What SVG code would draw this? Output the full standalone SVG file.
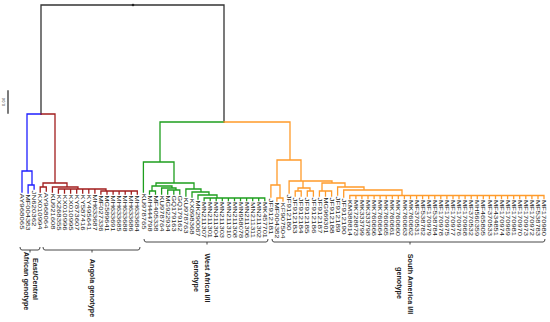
<svg xmlns="http://www.w3.org/2000/svg" width="550" height="322" viewBox="0 0 550 322">
<style>
.ln{fill:none;stroke-width:1.3;stroke-linecap:square}
.k{stroke:#333}.b{stroke:#1f1fff}.r{stroke:#a11d1d}.g{stroke:#1e9e1e}.o{stroke:#ff9b2a}
.lbl{font-family:"Liberation Sans",Arial,sans-serif;font-size:5.3px;fill:#222}
.grp{font-family:"Liberation Sans",Arial,sans-serif;font-size:7.2px;font-weight:bold;fill:#222;text-anchor:middle}
.br{fill:none;stroke:#333;stroke-width:0.9}
</style>
<rect width="550" height="322" fill="#fff"/>
<g id="scale">
<path class="ln k" d="M8,91V113" stroke-width="1"/>
<text transform="translate(4.8,102) rotate(-90)" style="font-family:'Liberation Sans',Arial,sans-serif;font-size:4px;fill:#333;text-anchor:middle">0.04</text>
</g>
<g id="connectors">
<path class="ln k" d="M41,114V5H224V122"/>
<circle cx="133" cy="5" r="1.3" fill="#222"/>
<path class="ln b" d="M41,114H27V171M22,192V171H32V185M28.1,193V185H34.1V189"/>
<path class="ln r" d="M41,114H55V183M43,183H67M40.2,192V187H46.3V191M43,183V187M67,183V187M52.4,192V187H78V189M58.4,189H106V191M100.9,191H137.3
M58.4,189V193M64.5,189V193M70.6,189V193M76.7,189V193M82.7,189V193M88.8,189V193M94.9,189V193
M100.9,191V194M107,191V194M113.1,191V194M119.1,191V194M125.2,191V194M131.3,191V194M137.3,191V194"/>
<path class="ln g" d="M160,122H224M160,122V162M143.4,192V162H174V183M156,183H194M156,183V186M152,186H172M152,186V191M149.5,194V191H155.5V194
M172,186V188M161.6,194V188H176V190M167.7,194V190H179.8V194M173.8,190V194
M194,183V189M185.9,196V189H201V192M192,197V192H209V195M198,199V195H217V198M204.1,198H264.8
M204.1,198V200.5M210.2,198V200.5M216.2,198V200.5M222.3,198V200.5M228.4,198V200.5M234.5,198V200.5M240.5,198V200.5M246.6,198V200.5M252.7,198V200.5M258.7,198V200.5M264.8,198V200.5"/>
<path class="ln o" d="M224,122H290V160M277,160H301M277,160V185M270.9,197V185H280V198M276.9,201V198H283V201
M301,160V181M289.1,193V181H332V183M322,183H345
M303,181V188M298,188H310M298,188V191M295.2,196V191H301.2V196M310,188V191M307.3,196V191H313.4V196
M322,183V191M319.4,196V191H331.6V196M325.5,191V196
M345,183V187M337.6,195V187H364V190M343.7,197V190H402V195.5M349.8,195.5H544
M349.8,195.5V198.5M355.9,195.5V198.5M361.9,195.5V198.5M368,195.5V198.5M374.1,195.5V198.5M380.1,195.5V198.5M386.2,195.5V198.5M392.3,195.5V198.5M398.3,195.5V198.5M404.4,195.5V198.5M410.5,195.5V198.5M416.6,195.5V198.5M422.6,195.5V198.5M428.7,195.5V198.5M434.8,195.5V198.5M440.8,195.5V198.5M446.9,195.5V198.5M453,195.5V198.5M459,195.5V198.5M465.1,195.5V198.5M471.2,195.5V198.5M477.3,195.5V198.5M483.3,195.5V198.5M489.4,195.5V198.5M495.5,195.5V198.5M501.5,195.5V198.5M507.6,195.5V198.5M513.7,195.5V198.5M519.7,195.5V198.5M525.8,195.5V198.5M531.9,195.5V198.5M538,195.5V198.5M544,195.5V198.5"/>
</g>
<g id="leaves" class="lbl">
<g id="n-AY968065"><text transform="translate(20.1,193.5) rotate(90)" textLength="36" lengthAdjust="spacingAndGlyphs">AY968065</text></g>
<g id="n-MF004383"><text transform="translate(26.2,194.5) rotate(90)" textLength="36" lengthAdjust="spacingAndGlyphs">MF004383</text></g>
<g id="n-JN620362"><text transform="translate(32.2,190.5) rotate(90)" textLength="36" lengthAdjust="spacingAndGlyphs">JN620362</text></g>
<g id="n-KX010994"><text transform="translate(38.3,193.5) rotate(90)" textLength="36" lengthAdjust="spacingAndGlyphs">KX010994</text></g>
<g id="n-AY968064"><text transform="translate(44.4,192.5) rotate(90)" textLength="36" lengthAdjust="spacingAndGlyphs">AY968064</text></g>
<g id="n-KU921608"><text transform="translate(50.5,193.5) rotate(90)" textLength="36" lengthAdjust="spacingAndGlyphs">KU921608</text></g>
<g id="n-KX268355"><text transform="translate(56.5,194.5) rotate(90)" textLength="36" lengthAdjust="spacingAndGlyphs">KX268355</text></g>
<g id="n-KX010996"><text transform="translate(62.6,194.5) rotate(90)" textLength="36" lengthAdjust="spacingAndGlyphs">KX010996</text></g>
<g id="n-KX010995"><text transform="translate(68.7,194.5) rotate(90)" textLength="36" lengthAdjust="spacingAndGlyphs">KX010995</text></g>
<g id="n-KY873607"><text transform="translate(74.8,194.5) rotate(90)" textLength="36" lengthAdjust="spacingAndGlyphs">KY873607</text></g>
<g id="n-KY587416"><text transform="translate(80.8,194.5) rotate(90)" textLength="36" lengthAdjust="spacingAndGlyphs">KY587416</text></g>
<g id="n-KY495641"><text transform="translate(86.9,194.5) rotate(90)" textLength="36" lengthAdjust="spacingAndGlyphs">KY495641</text></g>
<g id="n-MH633687"><text transform="translate(93,194.5) rotate(90)" textLength="36" lengthAdjust="spacingAndGlyphs">MH633687</text></g>
<g id="n-MF027336"><text transform="translate(99,195.5) rotate(90)" textLength="36" lengthAdjust="spacingAndGlyphs">MF027336</text></g>
<g id="n-MG589641"><text transform="translate(105.1,195.5) rotate(90)" textLength="36" lengthAdjust="spacingAndGlyphs">MG589641</text></g>
<g id="n-MH633691"><text transform="translate(111.2,195.5) rotate(90)" textLength="36" lengthAdjust="spacingAndGlyphs">MH633691</text></g>
<g id="n-MH633685"><text transform="translate(117.2,195.5) rotate(90)" textLength="36" lengthAdjust="spacingAndGlyphs">MH633685</text></g>
<g id="n-MH633688"><text transform="translate(123.3,195.5) rotate(90)" textLength="36" lengthAdjust="spacingAndGlyphs">MH633688</text></g>
<g id="n-MH633686"><text transform="translate(129.4,195.5) rotate(90)" textLength="36" lengthAdjust="spacingAndGlyphs">MH633686</text></g>
<g id="n-MH633684"><text transform="translate(135.4,195.5) rotate(90)" textLength="36" lengthAdjust="spacingAndGlyphs">MH633684</text></g>
<g id="n-KU978765"><text transform="translate(141.5,193.5) rotate(90)" textLength="36" lengthAdjust="spacingAndGlyphs">KU978765</text></g>
<g id="n-MH444798"><text transform="translate(147.6,195.5) rotate(90)" textLength="36" lengthAdjust="spacingAndGlyphs">MH444798</text></g>
<g id="n-MF405338"><text transform="translate(153.6,195.5) rotate(90)" textLength="36" lengthAdjust="spacingAndGlyphs">MF405338</text></g>
<g id="n-KU978764"><text transform="translate(159.7,195.5) rotate(90)" textLength="36" lengthAdjust="spacingAndGlyphs">KU978764</text></g>
<g id="n-MG922934"><text transform="translate(165.8,195.5) rotate(90)" textLength="36" lengthAdjust="spacingAndGlyphs">MG922934</text></g>
<g id="n-GQ179163"><text transform="translate(171.9,195.5) rotate(90)" textLength="36" lengthAdjust="spacingAndGlyphs">GQ179163</text></g>
<g id="n-GQ179162"><text transform="translate(177.9,195.5) rotate(90)" textLength="36" lengthAdjust="spacingAndGlyphs">GQ179162</text></g>
<g id="n-KU978763"><text transform="translate(184,197.5) rotate(90)" textLength="36" lengthAdjust="spacingAndGlyphs">KU978763</text></g>
<g id="n-KX898368"><text transform="translate(190.1,198.5) rotate(90)" textLength="36" lengthAdjust="spacingAndGlyphs">KX898368</text></g>
<g id="n-MK290067"><text transform="translate(196.1,200.5) rotate(90)" textLength="36" lengthAdjust="spacingAndGlyphs">MK290067</text></g>
<g id="n-MN211307"><text transform="translate(202.2,202) rotate(90)" textLength="36" lengthAdjust="spacingAndGlyphs">MN211307</text></g>
<g id="n-MN211301"><text transform="translate(208.3,202) rotate(90)" textLength="36" lengthAdjust="spacingAndGlyphs">MN211301</text></g>
<g id="n-MN211304"><text transform="translate(214.3,202) rotate(90)" textLength="36" lengthAdjust="spacingAndGlyphs">MN211304</text></g>
<g id="n-MN211303"><text transform="translate(220.4,202) rotate(90)" textLength="36" lengthAdjust="spacingAndGlyphs">MN211303</text></g>
<g id="n-MN211310"><text transform="translate(226.5,202) rotate(90)" textLength="36" lengthAdjust="spacingAndGlyphs">MN211310</text></g>
<g id="n-MN211308"><text transform="translate(232.6,202) rotate(90)" textLength="36" lengthAdjust="spacingAndGlyphs">MN211308</text></g>
<g id="n-MN958078"><text transform="translate(238.6,202) rotate(90)" textLength="36" lengthAdjust="spacingAndGlyphs">MN958078</text></g>
<g id="n-MN211306"><text transform="translate(244.7,202) rotate(90)" textLength="36" lengthAdjust="spacingAndGlyphs">MN211306</text></g>
<g id="n-MN211311"><text transform="translate(250.8,202) rotate(90)" textLength="36" lengthAdjust="spacingAndGlyphs">MN211311</text></g>
<g id="n-MN211302"><text transform="translate(256.8,202) rotate(90)" textLength="36" lengthAdjust="spacingAndGlyphs">MN211302</text></g>
<g id="n-MK457701"><text transform="translate(262.9,202) rotate(90)" textLength="36" lengthAdjust="spacingAndGlyphs">MK457701</text></g>
<g id="n-JF912181"><text transform="translate(269,198.5) rotate(90)" textLength="36" lengthAdjust="spacingAndGlyphs">JF912181</text></g>
<g id="n-MF004382"><text transform="translate(275,202.5) rotate(90)" textLength="36" lengthAdjust="spacingAndGlyphs">MF004382</text></g>
<g id="n-KF907504"><text transform="translate(281.1,202.5) rotate(90)" textLength="36" lengthAdjust="spacingAndGlyphs">KF907504</text></g>
<g id="n-JF912180"><text transform="translate(287.2,194.5) rotate(90)" textLength="36" lengthAdjust="spacingAndGlyphs">JF912180</text></g>
<g id="n-JF912183"><text transform="translate(293.3,197.5) rotate(90)" textLength="36" lengthAdjust="spacingAndGlyphs">JF912183</text></g>
<g id="n-JF912184"><text transform="translate(299.3,197.5) rotate(90)" textLength="36" lengthAdjust="spacingAndGlyphs">JF912184</text></g>
<g id="n-JF912185"><text transform="translate(305.4,197.5) rotate(90)" textLength="36" lengthAdjust="spacingAndGlyphs">JF912185</text></g>
<g id="n-JF912186"><text transform="translate(311.5,197.5) rotate(90)" textLength="36" lengthAdjust="spacingAndGlyphs">JF912186</text></g>
<g id="n-JF912187"><text transform="translate(317.5,197.5) rotate(90)" textLength="36" lengthAdjust="spacingAndGlyphs">JF912187</text></g>
<g id="n-MG969301"><text transform="translate(323.6,197.5) rotate(90)" textLength="36" lengthAdjust="spacingAndGlyphs">MG969301</text></g>
<g id="n-JF912188"><text transform="translate(329.7,197.5) rotate(90)" textLength="36" lengthAdjust="spacingAndGlyphs">JF912188</text></g>
<g id="n-JF912189"><text transform="translate(335.7,196.5) rotate(90)" textLength="36" lengthAdjust="spacingAndGlyphs">JF912189</text></g>
<g id="n-JF912190"><text transform="translate(341.8,198.5) rotate(90)" textLength="36" lengthAdjust="spacingAndGlyphs">JF912190</text></g>
<g id="n-KM388814"><text transform="translate(347.9,200) rotate(90)" textLength="36" lengthAdjust="spacingAndGlyphs">KM388814</text></g>
<g id="n-MK728873"><text transform="translate(354,200) rotate(90)" textLength="36" lengthAdjust="spacingAndGlyphs">MK728873</text></g>
<g id="n-MK333799"><text transform="translate(360,200) rotate(90)" textLength="36" lengthAdjust="spacingAndGlyphs">MK333799</text></g>
<g id="n-MK333798"><text transform="translate(366.1,200) rotate(90)" textLength="36" lengthAdjust="spacingAndGlyphs">MK333798</text></g>
<g id="n-MK760666"><text transform="translate(372.2,200) rotate(90)" textLength="36" lengthAdjust="spacingAndGlyphs">MK760666</text></g>
<g id="n-MK760664"><text transform="translate(378.2,200) rotate(90)" textLength="36" lengthAdjust="spacingAndGlyphs">MK760664</text></g>
<g id="n-MK760665"><text transform="translate(384.3,200) rotate(90)" textLength="36" lengthAdjust="spacingAndGlyphs">MK760665</text></g>
<g id="n-MK760661"><text transform="translate(390.4,200) rotate(90)" textLength="36" lengthAdjust="spacingAndGlyphs">MK760661</text></g>
<g id="n-MK760660"><text transform="translate(396.4,200) rotate(90)" textLength="36" lengthAdjust="spacingAndGlyphs">MK760660</text></g>
<g id="n-MK760663"><text transform="translate(402.5,200) rotate(90)" textLength="36" lengthAdjust="spacingAndGlyphs">MK760663</text></g>
<g id="n-MK760662"><text transform="translate(408.6,200) rotate(90)" textLength="36" lengthAdjust="spacingAndGlyphs">MK760662</text></g>
<g id="n-MF370531"><text transform="translate(414.7,200) rotate(90)" textLength="36" lengthAdjust="spacingAndGlyphs">MF370531</text></g>
<g id="n-MF538782"><text transform="translate(420.7,200) rotate(90)" textLength="36" lengthAdjust="spacingAndGlyphs">MF538782</text></g>
<g id="n-MF170979"><text transform="translate(426.8,200) rotate(90)" textLength="36" lengthAdjust="spacingAndGlyphs">MF170979</text></g>
<g id="n-MF538784"><text transform="translate(432.9,200) rotate(90)" textLength="36" lengthAdjust="spacingAndGlyphs">MF538784</text></g>
<g id="n-MF170978"><text transform="translate(438.9,200) rotate(90)" textLength="36" lengthAdjust="spacingAndGlyphs">MF170978</text></g>
<g id="n-MF170975"><text transform="translate(445,200) rotate(90)" textLength="36" lengthAdjust="spacingAndGlyphs">MF170975</text></g>
<g id="n-MF170977"><text transform="translate(451.1,200) rotate(90)" textLength="36" lengthAdjust="spacingAndGlyphs">MF170977</text></g>
<g id="n-MF170976"><text transform="translate(457.1,200) rotate(90)" textLength="36" lengthAdjust="spacingAndGlyphs">MF170976</text></g>
<g id="n-MF170968"><text transform="translate(463.2,200) rotate(90)" textLength="36" lengthAdjust="spacingAndGlyphs">MF170968</text></g>
<g id="n-MF370532"><text transform="translate(469.3,200) rotate(90)" textLength="36" lengthAdjust="spacingAndGlyphs">MF370532</text></g>
<g id="n-MH560359"><text transform="translate(475.4,200) rotate(90)" textLength="36" lengthAdjust="spacingAndGlyphs">MH560359</text></g>
<g id="n-MF465805"><text transform="translate(481.4,200) rotate(90)" textLength="36" lengthAdjust="spacingAndGlyphs">MF465805</text></g>
<g id="n-MF370533"><text transform="translate(487.5,200) rotate(90)" textLength="36" lengthAdjust="spacingAndGlyphs">MF370533</text></g>
<g id="n-MF434851"><text transform="translate(493.6,200) rotate(90)" textLength="36" lengthAdjust="spacingAndGlyphs">MF434851</text></g>
<g id="n-MF170974"><text transform="translate(499.6,200) rotate(90)" textLength="36" lengthAdjust="spacingAndGlyphs">MF170974</text></g>
<g id="n-MF170969"><text transform="translate(505.7,200) rotate(90)" textLength="36" lengthAdjust="spacingAndGlyphs">MF170969</text></g>
<g id="n-MF170981"><text transform="translate(511.8,200) rotate(90)" textLength="36" lengthAdjust="spacingAndGlyphs">MF170981</text></g>
<g id="n-MF170970"><text transform="translate(517.8,200) rotate(90)" textLength="36" lengthAdjust="spacingAndGlyphs">MF170970</text></g>
<g id="n-MF170973"><text transform="translate(523.9,200) rotate(90)" textLength="36" lengthAdjust="spacingAndGlyphs">MF170973</text></g>
<g id="n-MF170972"><text transform="translate(530,200) rotate(90)" textLength="36" lengthAdjust="spacingAndGlyphs">MF170972</text></g>
<g id="n-MF538783"><text transform="translate(536.1,200) rotate(90)" textLength="36" lengthAdjust="spacingAndGlyphs">MF538783</text></g>
<g id="n-MF170980"><text transform="translate(542.1,200) rotate(90)" textLength="36" lengthAdjust="spacingAndGlyphs">MF170980</text></g>
</g>
<g id="groups">
<g id="grp-ecsa">
<path class="br" d="M20,247Q20,250 22,250H38Q40,250 40,247M30,250V252.5"/>
<text class="grp" transform="translate(33.4,279) rotate(90)">East/Central</text>
<text class="grp" transform="translate(24.4,281) rotate(90)">African genotype</text>
</g>
<g id="grp-angola">
<path class="br" d="M43,247Q43,250 45,250H138Q140,250 140,247M92,250V252.5"/>
<text class="grp" transform="translate(90.4,288) rotate(90)">Angola genotype</text>
</g>
<g id="grp-wa">
<path class="br" d="M144,239Q144,242 146,242H266Q268,242 268,239M207,242V244.5"/>
<text class="grp" transform="translate(205.4,278) rotate(90)">West Africa I/II</text>
<text class="grp" transform="translate(194.4,276) rotate(90)">genotype</text>
</g>
<g id="grp-sa">
<path class="br" d="M272,239Q272,242 274,242H543Q545,242 545,239M410,242V244.5"/>
<text class="grp" transform="translate(408.4,284) rotate(90)">South America I/II</text>
<text class="grp" transform="translate(397.4,283) rotate(90)">genotype</text>
</g>
</g>
</svg>
